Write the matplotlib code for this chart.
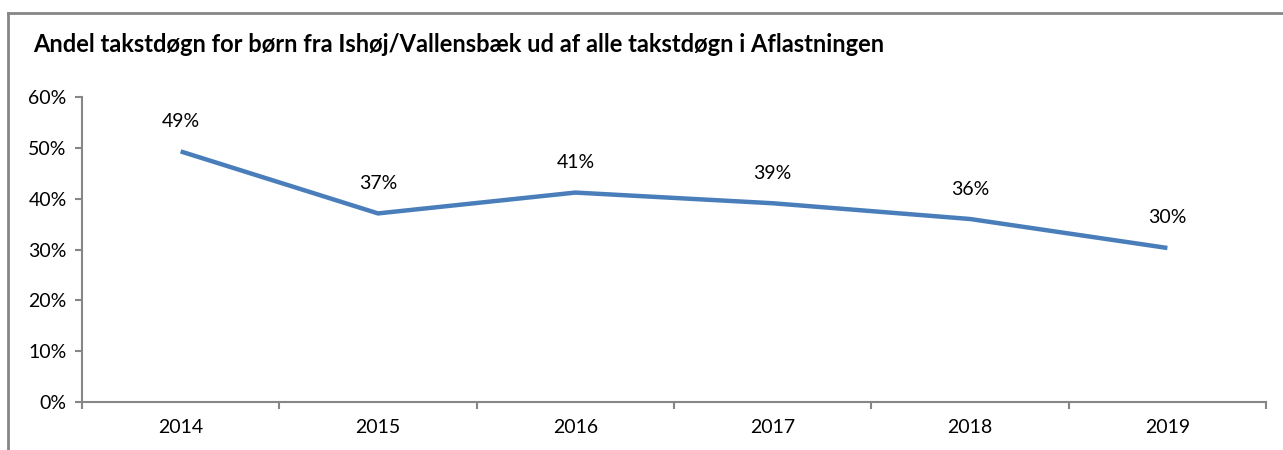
import matplotlib.pyplot as plt
from matplotlib.lines import Line2D
from matplotlib.ticker import FixedLocator, PercentFormatter

years = ["2014", "2015", "2016", "2017", "2018", "2019"]
shares = [49.3, 37.1, 41.2, 39.1, 36.0, 30.3]
share_labels = ["49%", "37%", "41%", "39%", "36%", "30%"]
y_ticks = [0, 10, 20, 30, 40, 50, 60]

plt.rcParams["font.family"] = ["Lato", "DejaVu Sans"]

fig = plt.figure(figsize=(12.83, 4.5), dpi=100)
ax = fig.add_axes([0.0639, 0.1067, 0.9229, 0.6777])

x = list(range(len(years)))
ax.plot(x, shares, color="#4A7EBB", linewidth=3.2, solid_capstyle="butt")
for xi, yi, lab in zip(x, shares, share_labels):
    ax.annotate(lab, (xi, yi), xytext=(0, 21.6), textcoords="offset points",
                ha="center", va="center", fontsize=14, color="black")

ax.set_xlim(-0.5, len(years) - 0.5)
ax.set_ylim(0, 60)
ax.yaxis.set_major_locator(FixedLocator(y_ticks))
ax.yaxis.set_major_formatter(PercentFormatter(decimals=0))
ax.set_xticks(x)
ax.set_xticklabels(years)
ax.xaxis.set_minor_locator(FixedLocator([i - 0.5 for i in range(len(years) + 1)]))
ax.tick_params(axis="x", which="major", length=0, pad=12, labelsize=14)
ax.tick_params(axis="x", which="minor", length=5, width=1.5, color="#868686")
ax.tick_params(axis="y", length=5, width=1.5, color="#868686", pad=6, labelsize=14)

for side in ["top", "right"]:
    ax.spines[side].set_visible(False)
for side in ["left", "bottom"]:
    ax.spines[side].set_color("#868686")
    ax.spines[side].set_linewidth(1.5)

# chart border (only top and left visible in the crop)
fig.add_artist(Line2D([0.0062, 1.0], [0.971, 0.971], transform=fig.transFigure,
                      color="#868686", linewidth=2))
fig.add_artist(Line2D([0.0062, 0.0062], [0.0, 0.971], transform=fig.transFigure,
                      color="#868686", linewidth=2))

fig.text(0.026, 0.9, "Andel takstdøgn for børn fra Ishøj/Vallensbæk ud af alle takstdøgn i Aflastningen",
         fontsize=17, fontweight="bold", ha="left", va="center")

fig.savefig("out.png", dpi=100)
